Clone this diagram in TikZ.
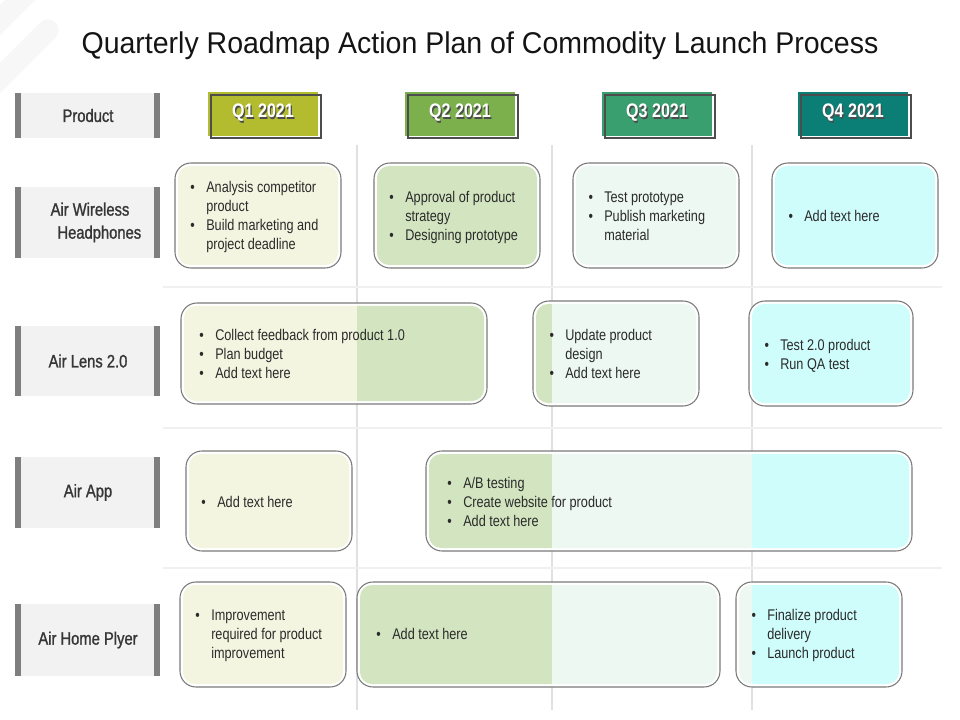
\documentclass[tikz,border=0pt]{standalone}
\usepackage{fontspec}
\setmainfont{Liberation Sans}
\newfontfamily\narrowf{Liberation Sans}[FakeStretch=0.82]
\newfontfamily\labf{Liberation Sans}[FakeStretch=0.82,FakeBold=1.2]
\newfontfamily\titlef{Liberation Sans}[FakeStretch=0.95]
\definecolor{q1}{HTML}{B3BC2E}
\definecolor{q2}{HTML}{7BB04D}
\definecolor{q3}{HTML}{3A9F6F}
\definecolor{q4}{HTML}{0B7E76}
\definecolor{c1}{HTML}{F3F5E0}
\definecolor{c2}{HTML}{D3E5C0}
\definecolor{c3}{HTML}{ECF8F1}
\definecolor{c4}{HTML}{CFFDFB}
\definecolor{labelbg}{HTML}{F2F2F2}
\definecolor{barc}{HTML}{7F7F7F}
\definecolor{cardline}{HTML}{7A7A7A}
\definecolor{cardtxt}{HTML}{2B2B2B}
\definecolor{labtxt}{HTML}{363636}
\definecolor{gridv}{HTML}{E0E0E0}
\definecolor{gridh}{HTML}{F0F0F0}
\definecolor{qline}{HTML}{4D4D4D}
\definecolor{decor}{HTML}{F7F7F7}
\newcommand{\bul}{\llap{\textbullet\hspace{8.5pt}}}
\tikzset{
  labbox/.style={fill=labelbg, inner sep=0pt, outer sep=0pt, minimum width=108.75pt},
  labtext/.style={font=\labf\fontsize{13.5}{17.25}\selectfont, text=labtxt, align=center, inner sep=0pt},
  qfill/.style={inner sep=0pt, outer sep=0pt, minimum width=82.5pt, minimum height=33pt},
  qframe/.style={draw=qline, line width=1.4pt, inner sep=0pt, minimum width=82.5pt, minimum height=32pt},
  qtext/.style={font=\narrowf\bfseries\fontsize{14.7}{17}\selectfont, text=white, inner sep=0pt},
  qshadow/.style={font=\narrowf\bfseries\fontsize{14.7}{17}\selectfont, text=black!70, inner sep=0pt},
  cardbox/.style={draw=cardline, line width=0.8pt, fill=white, rounded corners=12pt, inner sep=0pt, outer sep=0pt},
  cardtext/.style={font=\narrowf\fontsize{11.6}{14.25}\selectfont, text=cardtxt, align=left, inner sep=0pt, anchor=west},
  gridlinev/.style={draw=gridv, line width=0.9pt},
  gridlineh/.style={draw=gridh, line width=0.9pt}
}
\newcommand{\qcard}[5]{%
  \node[cardbox, minimum width={(#4-#2)*0.75pt}, minimum height={(#5-#3)*0.75pt}] (#1) at ({(#2+#4)/2},{(#3+#5)/2}) {};
  \begin{scope}
    \clip[rounded corners=9pt] ({#2+3},{#3+3}) rectangle ({#4-3},{#5-3});
    \fill[c1] (0,0) rectangle (357,720);
    \fill[c2] (357,0) rectangle (552,720);
    \fill[c3] (552,0) rectangle (752,720);
    \fill[c4] (752,0) rectangle (960,720);
  \end{scope}}
\newcommand{\lab}[5]{% name, y1, y2, text
  \node[labbox, minimum height={(#3-#2)*0.75pt}] (#1) at (87.5,{(#2+#3)/2}) {};
  \fill[barc] (#1.north west) rectangle ([xshift=4.5pt]#1.south west);
  \fill[barc] ([xshift=-4.5pt]#1.north east) rectangle (#1.south east);
  \node[labtext] (#1t) at (#5,{(#2+#3)/2}) {#4};}
\newcommand{\qhead}[4]{% name, x1, color, text
  \node[qfill, fill=#3] (#1) at ({#2+55},114) {};
  \node[qframe] (#1f) at ({#2+58},116.5) {};
  \node[qshadow] (#1s) at ({#2+55+1.2},{113+1.2}) {#4};
  \node[qtext] (#1t) at ({#2+55},113) {#4};}
\begin{document}
\begin{tikzpicture}[x=0.75pt,y=-0.75pt]
\useasboundingbox (0,0) rectangle (960,720);
\fill[white] (0,0) rectangle (960,720);
% corner decoration
\begin{scope}
  \clip (0,0) rectangle (960,720);
  \draw[decor, line width=16pt, line cap=round] (-20,40) -- (45,-25);
  \draw[decor, line width=16pt, line cap=round] (-20,98) -- (48,30);
\end{scope}
% title
\node[font=\titlef\fontsize{22.5}{26}\selectfont, text=black!92, anchor=base, inner sep=0pt] (title) at (480,54) {Quarterly Roadmap Action Plan of Commodity Launch Process};
% grid
\coordinate (v1t) at (357,145); \coordinate (v1b) at (357,710);
\coordinate (v2t) at (552,145); \coordinate (v2b) at (552,710);
\coordinate (v3t) at (752,145); \coordinate (v3b) at (752,710);
\draw[gridlinev] (v1t) -- (v1b);
\draw[gridlinev] (v2t) -- (v2b);
\draw[gridlinev] (v3t) -- (v3b);
\coordinate (h1l) at (163,287); \coordinate (h1r) at (942,287);
\coordinate (h2l) at (163,428); \coordinate (h2r) at (942,428);
\coordinate (h3l) at (163,568); \coordinate (h3r) at (942,568);
\draw[gridlineh] (h1l) -- (h1r);
\draw[gridlineh] (h2l) -- (h2r);
\draw[gridlineh] (h3l) -- (h3r);
% left labels
\lab{lp}{93}{138}{Product}{88}
\lab{lw}{187}{258}{Air Wireless\\\hspace*{14pt}Headphones}{90}
\lab{ll}{326}{396}{Air Lens 2.0}{88}
\lab{la}{457}{528}{Air App}{88}
\lab{lh}{604}{676}{Air Home Plyer}{88}
% quarter headers
\qhead{h1}{208}{q1}{Q1 2021}
\qhead{h2}{405}{q2}{Q2 2021}
\qhead{h3}{602}{q3}{Q3 2021}
\qhead{h4}{798}{q4}{Q4 2021}
% row 1
\qcard{k11}{175}{163}{341}{268}
\qcard{k12}{374}{163}{540}{268}
\qcard{k13}{573}{163}{739}{268}
\qcard{k14}{772}{163}{938}{268}
\node[cardtext] (t11) at (206,217.5) {\bul Analysis competitor\\product\\\bul Build marketing and\\project deadline};
\node[cardtext] (t12) at (405,218) {\bul Approval of product\\strategy\\\bul Designing prototype};
\node[cardtext] (t13) at (604,216) {\bul Test prototype\\\bul Publish marketing\\material};
\node[cardtext] (t14) at (804,215.5) {\bul Add text here};
% row 2
\qcard{k21}{181}{303}{487}{404}
\qcard{k22}{533}{301}{699}{406}
\qcard{k23}{749}{301}{913}{406}
\node[cardtext] (t21) at (215,354) {\bul Collect feedback from product 1.0\\\bul Plan budget\\\bul Add text here};
\node[cardtext] (t22) at (565,354) {\bul Update product\\design\\\bul Add text here};
\node[cardtext] (t23) at (780,356) {\bul Test 2.0 product\\\bul Run QA test};
% row 3
\qcard{k31}{186}{451}{352}{551}
\qcard{k32}{426}{451}{912}{551}
\node[cardtext] (t31) at (217,502) {\bul Add text here};
\node[cardtext] (t32) at (463,502) {\bul A/B testing\\\bul Create website for product\\\bul Add text here};
% row 4
\qcard{k41}{180}{582}{346}{687}
\qcard{k42}{357}{582}{720}{687}
\qcard{k43}{736}{582}{902}{687}
\node[cardtext] (t41) at (211,636) {\bul Improvement\\required for product\\improvement};
\node[cardtext] (t42) at (392,634) {\bul Add text here};
\node[cardtext] (t43) at (767,635.5) {\bul Finalize product\\delivery\\\bul Launch product};
\end{tikzpicture}
\end{document}
